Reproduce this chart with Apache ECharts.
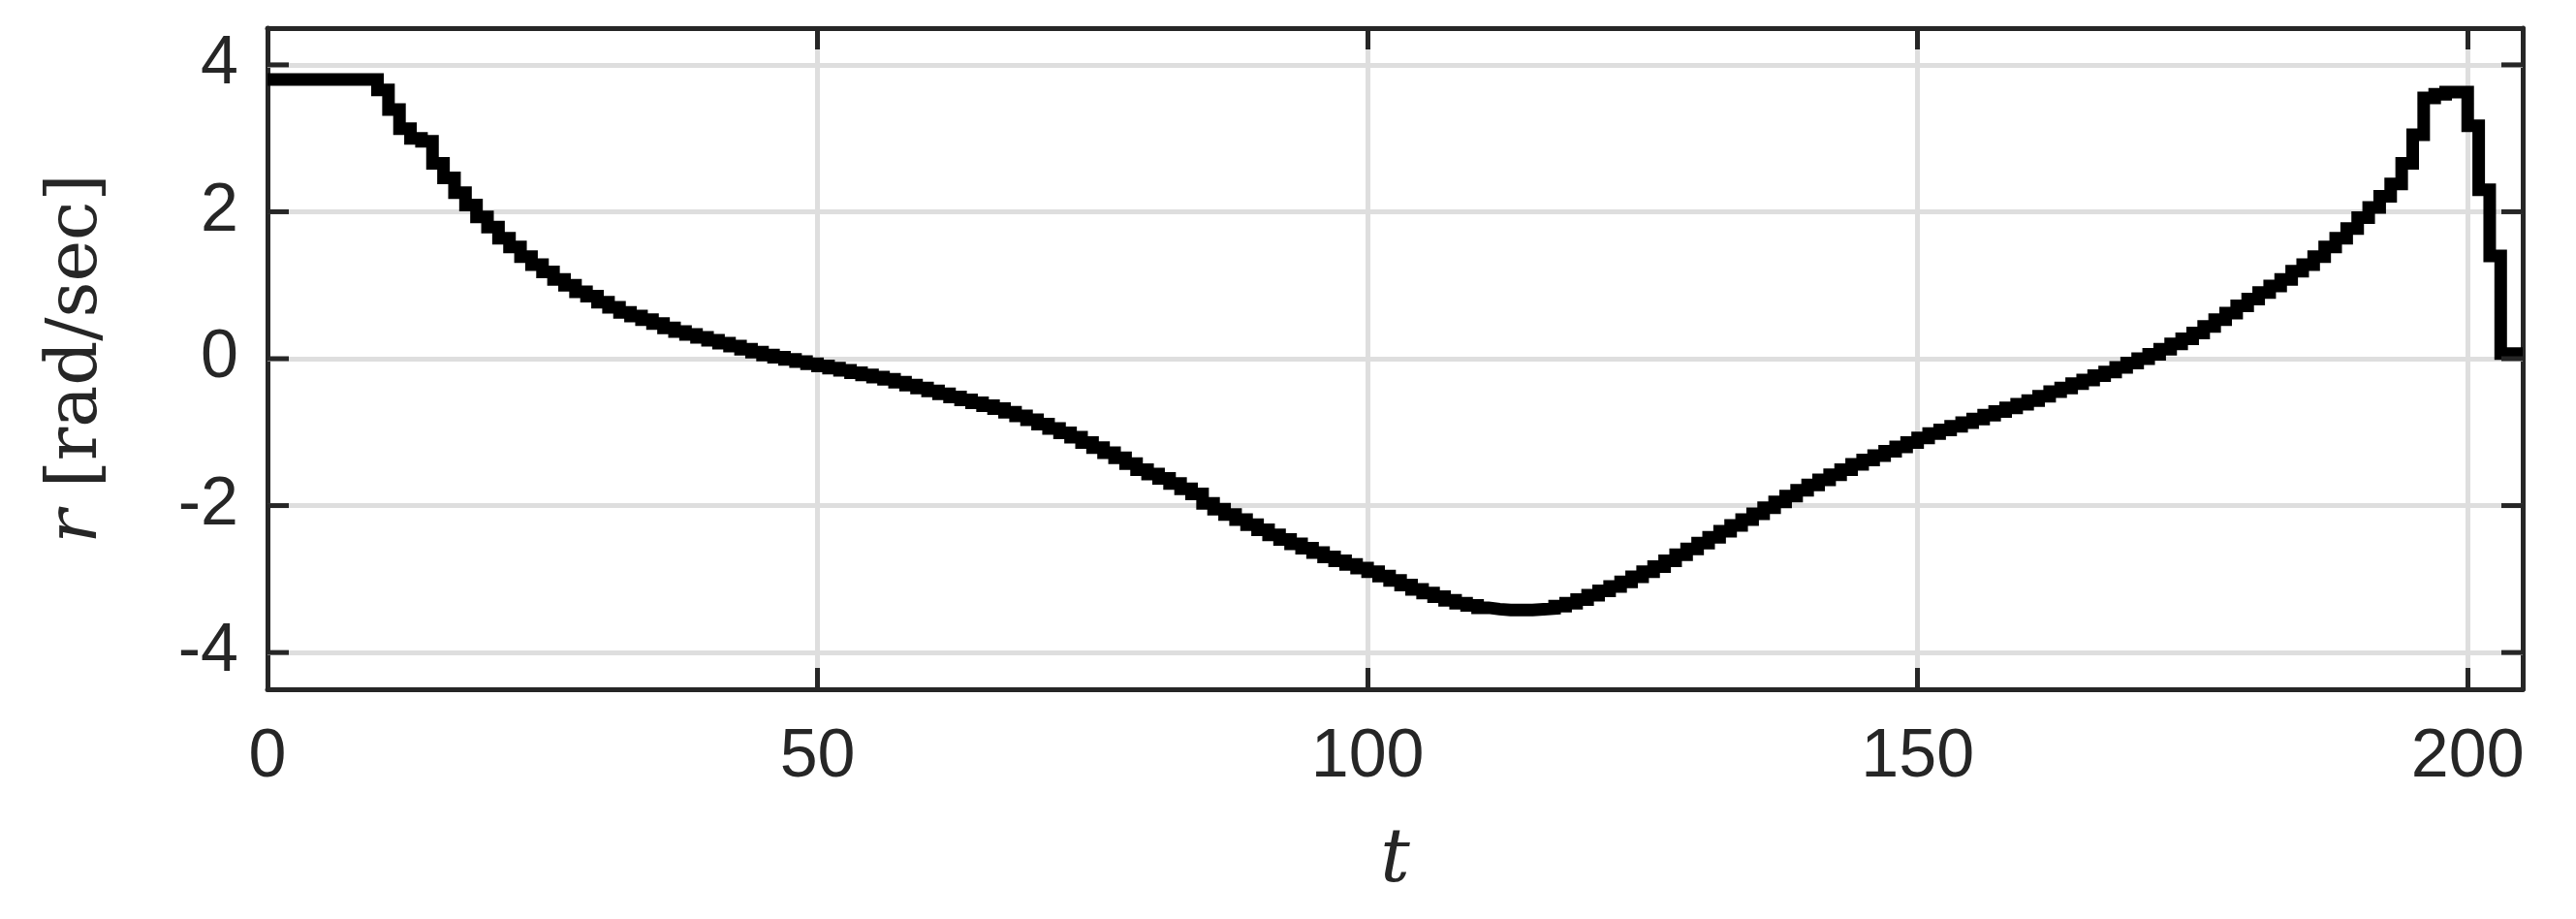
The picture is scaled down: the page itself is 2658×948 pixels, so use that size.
<!DOCTYPE html>
<html>
<head>
<meta charset="utf-8">
<script src="https://cdn.jsdelivr.net/npm/echarts@6/dist/echarts.min.js"></script>
<style>
html, body { margin: 0; padding: 0; background: #fff; }
#chart { width: 2658px; height: 948px; }
</style>
</head>
<body>
<div id="chart"></div>
<script>
// r [rad/sec] sampled once per unit of t, held until the next sample
var rValues = [
    3.80, 3.80, 3.80, 3.80, 3.80, 3.80, 3.80, 3.80, 3.80, 3.80,
    3.66, 3.39, 3.13, 3.00, 2.96, 2.66, 2.46, 2.26, 2.09, 1.93,
    1.79, 1.64, 1.52, 1.39, 1.28, 1.18, 1.08, 1.00, 0.91, 0.85,
    0.77, 0.70, 0.63, 0.58, 0.53, 0.48, 0.42, 0.37, 0.33, 0.29,
    0.25, 0.21, 0.17, 0.13, 0.09, 0.05, 0.02, -0.01, -0.04, -0.07,
    -0.10, -0.13, -0.16, -0.19, -0.22, -0.25, -0.28, -0.32, -0.36, -0.40,
    -0.44, -0.48, -0.52, -0.56, -0.60, -0.64, -0.68, -0.73, -0.78, -0.83,
    -0.89, -0.95, -1.01, -1.07, -1.14, -1.21, -1.28, -1.35, -1.43, -1.51,
    -1.57, -1.63, -1.70, -1.77, -1.84, -1.97, -2.05, -2.12, -2.19, -2.26,
    -2.33, -2.40, -2.46, -2.52, -2.58, -2.64, -2.70, -2.75, -2.80, -2.85,
    -2.90, -2.96, -3.02, -3.08, -3.14, -3.19, -3.24, -3.29, -3.33, -3.36,
    -3.39, -3.41, -3.42, -3.42, -3.42, -3.41, -3.40, -3.37, -3.33, -3.28,
    -3.22, -3.16, -3.10, -3.04, -2.97, -2.90, -2.83, -2.75, -2.67, -2.59,
    -2.51, -2.43, -2.35, -2.27, -2.19, -2.11, -2.03, -1.95, -1.87, -1.79,
    -1.72, -1.65, -1.58, -1.51, -1.44, -1.38, -1.32, -1.26, -1.20, -1.14,
    -1.08, -1.02, -0.97, -0.92, -0.87, -0.82, -0.77, -0.72, -0.67, -0.62,
    -0.57, -0.51, -0.45, -0.40, -0.34, -0.29, -0.23, -0.18, -0.12, -0.06,
    0.00, 0.06, 0.13, 0.20, 0.27, 0.35, 0.44, 0.53, 0.62, 0.72,
    0.81, 0.90, 0.99, 1.08, 1.19, 1.28, 1.39, 1.52, 1.64, 1.77,
    1.92, 2.06, 2.21, 2.38, 2.66, 3.05, 3.55, 3.60, 3.63, 3.63,
    3.17, 2.30, 1.40, 0.07, 0.07, 0.07
];
var tValues = [];
for (var i = 0; i < rValues.length; i++) tValues.push(i);
var yTicks = [-4, -2, 0, 2, 4];

var data = [];
for (var i = 0; i < rValues.length; i++) data.push([tValues[i], rValues[i]]);

var axisColor = '#262626';
var tickFont = { color: axisColor, fontSize: 70, fontFamily: 'Liberation Sans' };
var border = { show: true, onZero: false, lineStyle: { color: axisColor, width: 5 } };

var myChart = echarts.init(document.getElementById('chart'), null, { renderer: 'canvas' });

var option = {
    animation: false,
    backgroundColor: '#ffffff',
    grid: { left: 276, right: 55, top: 29, bottom: 237 },
    xAxis: [
        {
            type: 'value',
            min: 0,
            max: 205,
            interval: 50,
            position: 'bottom',
            name: 't',
            nameLocation: 'middle',
            nameGap: 140,
            nameTextStyle: { fontSize: 76, fontStyle: 'italic', fontFamily: 'DejaVu Serif', color: axisColor },
            axisLine: border,
            axisTick: { inside: true, length: 22, lineStyle: { color: axisColor, width: 5 } },
            axisLabel: Object.assign({ margin: 36, showMaxLabel: false }, tickFont),
            splitLine: { show: true, lineStyle: { color: '#dedede', width: 5 } }
        },
        {
            type: 'value',
            min: 0,
            max: 205,
            interval: 50,
            position: 'top',
            axisLine: border,
            axisTick: { inside: true, length: 22, lineStyle: { color: axisColor, width: 5 } },
            axisLabel: { show: false },
            splitLine: { show: false }
        }
    ],
    yAxis: [
        {
            type: 'value',
            min: -4.5,
            max: 4.5,
            position: 'left',
            name: '{i|r} [rad/sec]',
            nameLocation: 'middle',
            nameGap: 160,
            nameRotate: 90,
            nameTextStyle: {
                fontSize: 72, fontFamily: 'DejaVu Serif', color: axisColor,
                rich: { i: { fontSize: 72, fontStyle: 'italic', fontFamily: 'DejaVu Serif', color: axisColor } }
            },
            axisLine: border,
            axisTick: { show: false },
            axisLabel: Object.assign({ margin: 30, customValues: yTicks }, tickFont),
            splitLine: { show: false }
        },
        {
            type: 'value',
            min: -4.5,
            max: 4.5,
            position: 'right',
            axisLine: border,
            axisTick: { show: false },
            axisLabel: { show: false },
            splitLine: { show: false }
        }
    ],
    series: [
        {
            type: 'line',
            data: [],
            silent: true,
            markLine: {
                symbol: 'none',
                silent: true,
                label: { show: false },
                lineStyle: { color: '#dedede', width: 5, type: 'solid' },
                data: yTicks.map(function (v) { return { yAxis: v }; })
            }
        },
        {
            type: 'line',
            step: 'end',
            data: data,
            showSymbol: false,
            lineStyle: { color: '#000000', width: 13, cap: 'butt', join: 'miter' },
            z: 5
        }
    ]
};

myChart.setOption(option);

// short inside ticks on the left and right borders
var g = [];
yTicks.forEach(function (v) {
    var pL = myChart.convertToPixel({ xAxisIndex: 0, yAxisIndex: 0 }, [0, v]);
    var pR = myChart.convertToPixel({ xAxisIndex: 0, yAxisIndex: 0 }, [205, v]);
    g.push({ type: 'line', shape: { x1: pL[0], y1: pL[1], x2: pL[0] + 22, y2: pL[1] }, style: { stroke: axisColor, lineWidth: 5 }, z: 10 });
    g.push({ type: 'line', shape: { x1: pR[0] - 22, y1: pR[1], x2: pR[0], y2: pR[1] }, style: { stroke: axisColor, lineWidth: 5 }, z: 10 });
});
myChart.setOption({ graphic: g });
</script>
</body>
</html>
